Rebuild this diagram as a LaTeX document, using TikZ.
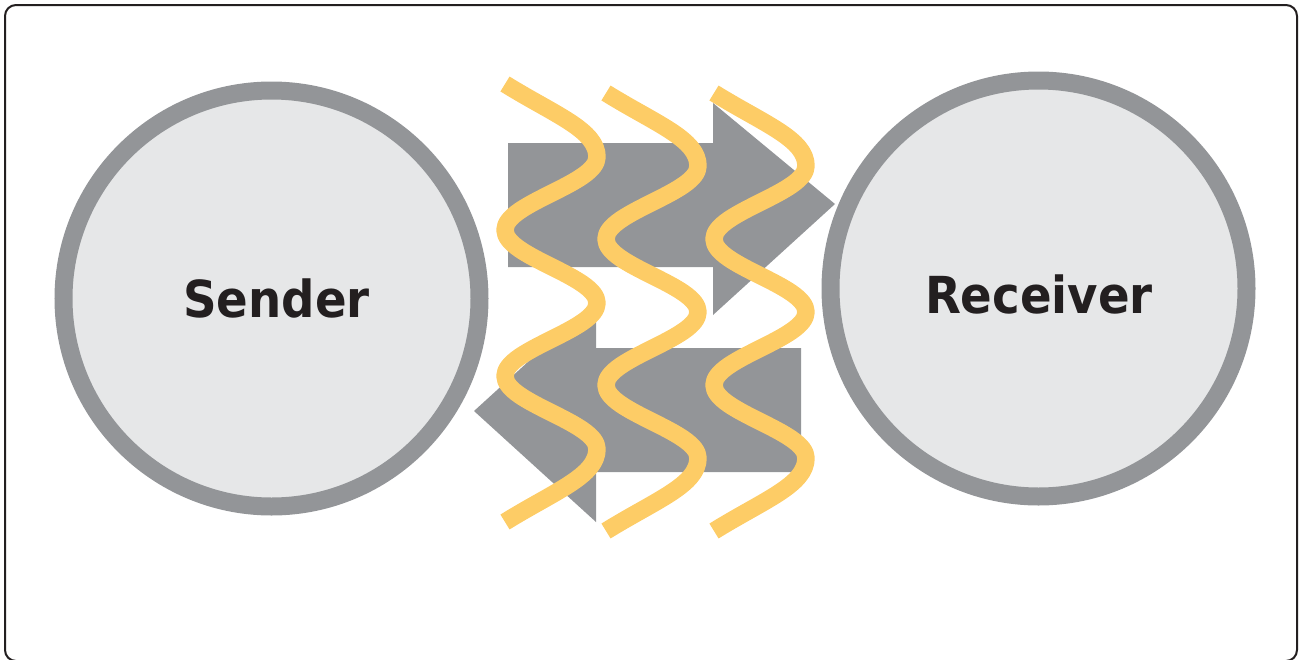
\documentclass[tikz,border=0pt]{standalone}
\usepackage{fontspec}
\usepackage{graphicx}
\newfontfamily\labelfont{DejaVu Sans}
\definecolor{ring}{HTML}{939598}
\definecolor{innerfill}{HTML}{E6E7E8}
\definecolor{arrowgray}{HTML}{939598}
\definecolor{waveyellow}{HTML}{FDCC66}
\definecolor{textdark}{HTML}{231F20}
\definecolor{frame}{HTML}{231F20}
\tikzset{
  party/.style={circle, draw=ring, line width=18pt, fill=innerfill, minimum size=416pt,
    inner sep=0pt, outer sep=0pt},
  partylabel/.style={anchor=base, inner sep=0pt, text=textdark,
    font=\labelfont\bfseries\fontsize{51}{51}\selectfont},
  flowarrow/.style={fill=arrowgray, draw=none},
  wave/.style={draw=waveyellow, line width=17.5pt, line cap=butt, line join=round},
  outerframe/.style={draw=frame, line width=2pt, rounded corners=11pt}
}
\begin{document}
\begin{tikzpicture}[x=1pt,y=-1pt]
\useasboundingbox (0,0) rectangle (1299,659);
\draw[outerframe] (5,5) rectangle (1297,661);
\node[party] (sender) at (271.5,298.5) {};
\node[party] (receiver) at (1038.5,288.5) {};
\node[partylabel] (senderlabel) at (276.5,317) {\scalebox{0.915}[1]{Sender}};
\node[partylabel] (receiverlabel) at (1039,313) {\scalebox{0.915}[1]{Receiver}};
% arrow to the right
\path[flowarrow] (508,143) -- (713,143) -- (713,103) -- (835,204) -- (713,315)
  -- (713,267) -- (508,267) -- cycle;
% arrow to the left
\path[flowarrow] (801,348) -- (596,348) -- (596,300) -- (474,411) -- (596,522)
  -- (596,472) -- (801,472) -- cycle;
% waves
\foreach \wx/\wy in {505/84, 606/93, 714/93}{
  \draw[wave] (\wx,\wy)
    .. controls +(50,31) and +(0,-27) .. ({\wx+92},{\wy+73})
    .. controls +(0,27) and +(0,-27) .. ({\wx},{\wy+146})
    .. controls +(0,27) and +(0,-27) .. ({\wx+92},{\wy+219})
    .. controls +(0,27) and +(0,-27) .. ({\wx},{\wy+292})
    .. controls +(0,27) and +(0,-27) .. ({\wx+92},{\wy+365})
    .. controls +(0,27) and +(50,-31) .. ({\wx},{\wy+438});
}
\end{tikzpicture}
\end{document}
